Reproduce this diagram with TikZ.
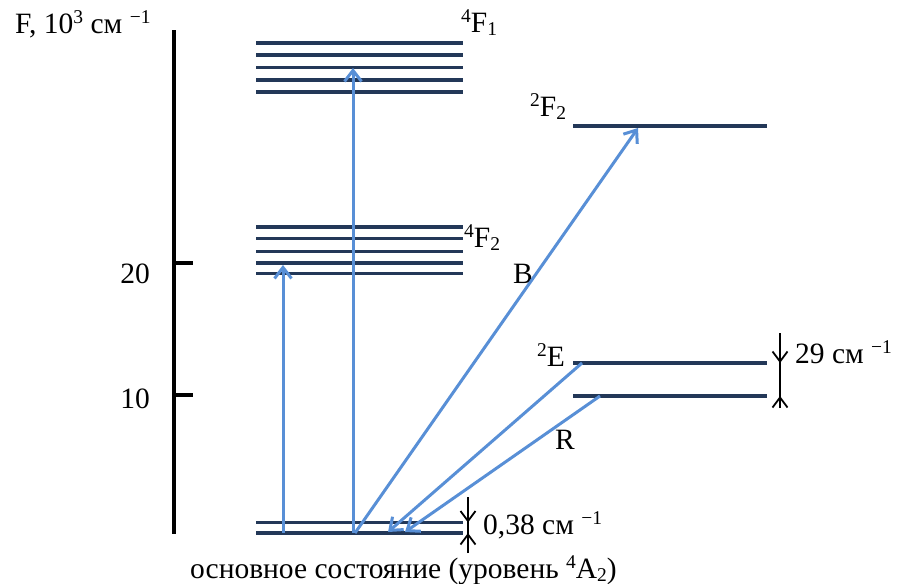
\documentclass[tikz,border=0pt]{standalone}
\usepackage{fontspec}
\setmainfont{Liberation Serif}
\usetikzlibrary{arrows.meta}
\definecolor{levelc}{RGB}{35,56,88}
\definecolor{arrc}{RGB}{88,143,214}
\newcommand{\mysup}[1]{\raisebox{0.32em}{\fontsize{19.5}{20}\selectfont #1}}
\newcommand{\mysub}[1]{\raisebox{-0.12em}{\fontsize{19.5}{20}\selectfont #1}}
\begin{document}
\begin{tikzpicture}[x=1pt,y=-1pt,
  level/.style={draw=levelc,line width=3.3pt},
  trans/.style={draw=arrc,line width=3pt,-{Straight Barb[length=11pt,width=17pt]}},
  dimline/.style={draw=black,line width=1.8pt},
  dim/.style={draw=black,line width=1.8pt,-{Straight Barb[length=10pt,width=15pt]}},
  lbl/.style={inner sep=0pt,anchor=base west,font=\fontsize{29.5}{34}\selectfont},
  axis/.style={draw=black,line width=3.4pt}]
\useasboundingbox (0,0) rectangle (903,584);
% axis
\coordinate (axT) at (174,30);
\coordinate (axB) at (174,534);
\draw[axis] (axT) -- (axB);
\coordinate (t20a) at (172,263); \coordinate (t20b) at (193,263);
\coordinate (t10a) at (172,395); \coordinate (t10b) at (193,395);
\draw[axis] (t20a) -- (t20b);
\draw[axis] (t10a) -- (t10b);
\node[lbl,anchor=base east] (l20) at (150,283) {20};
\node[lbl,anchor=base east] (l10) at (150,408) {10};
\node[lbl] (ylab) at (15,33) {F, 10\mysup{3} см \mysup{−1}};
% 4F1 levels
\foreach \y [count=\i] in {43,55,67.5,80,92}{
  \coordinate (fa\i) at (256,\y); \coordinate (fb\i) at (463,\y);
  \draw[level] (fa\i) -- (fb\i);}
% 4F2 levels
\foreach \y [count=\i] in {227,238.5,251.5,263,273.5}{
  \coordinate (ga\i) at (256,\y); \coordinate (gb\i) at (463,\y);
  \draw[level] (ga\i) -- (gb\i);}
% ground
\coordinate (h1a) at (256,522.5); \coordinate (h1b) at (463,522.5);
\coordinate (h2a) at (256,533); \coordinate (h2b) at (463,533);
\draw[level] (h1a) -- (h1b);
\draw[level] (h2a) -- (h2b);
% 2F2
\coordinate (pa) at (573,126); \coordinate (pb) at (767,126);
\draw[level] (pa) -- (pb);
% 2E
\coordinate (ea) at (573,363); \coordinate (eb) at (767,363);
\coordinate (ra) at (573,396); \coordinate (rb) at (767,396);
\draw[level] (ea) -- (eb);
\draw[level] (ra) -- (rb);
% labels
\node[lbl] (nF1) at (461,32) {\mysup{4}F\mysub{1}};
\node[lbl] (nF2) at (464,247) {\mysup{4}F\mysub{2}};
\node[lbl] (nP) at (530,116) {\mysup{2}F\mysub{2}};
\node[lbl] (nE) at (537,366) {\mysup{2}E};
\node[lbl] (nB) at (513,283) {B};
\node[lbl] (nR) at (555,449) {R};
\node[lbl] (n29) at (795,363) {29 см \mysup{−1}};
\node[lbl] (n038) at (483,534) {0,38 см \mysup{−1}};
\node[lbl] (ground) at (190,578) {основное состояние (уровень \mysup{4}A\mysub{2})};
% transitions
\coordinate (s1) at (283,533); \coordinate (e1) at (283,265);
\coordinate (s2) at (353,533); \coordinate (e2) at (353,68);
\coordinate (s3) at (355,533); \coordinate (e3) at (638,128);
\coordinate (s4) at (582,363); \coordinate (e4) at (388,532);
\coordinate (s5) at (600,396); \coordinate (e5) at (405,532);
\draw[trans] (s1) -- (e1);
\draw[trans] (s2) -- (e2);
\draw[trans] (s3) -- (e3);
\draw[trans] (s4) -- (e4);
\draw[trans] (s5) -- (e5);
% dimension marks
\coordinate (d1a) at (468,497); \coordinate (d1b) at (468,522.5);
\coordinate (d2a) at (468,553); \coordinate (d2b) at (468,533);
\draw[dimline] (d1a) -- (d2a);
\draw[dim] (d1a) -- (d1b);
\draw[dim] (d2a) -- (d2b);
\coordinate (d3a) at (780,333); \coordinate (d3b) at (780,363);
\coordinate (d4a) at (780,408); \coordinate (d4b) at (780,396);
\draw[dimline] (d3a) -- (d4a);
\draw[dim] (d3a) -- (d3b);
\draw[dim] (d4a) -- (d4b);
\end{tikzpicture}
\end{document}
